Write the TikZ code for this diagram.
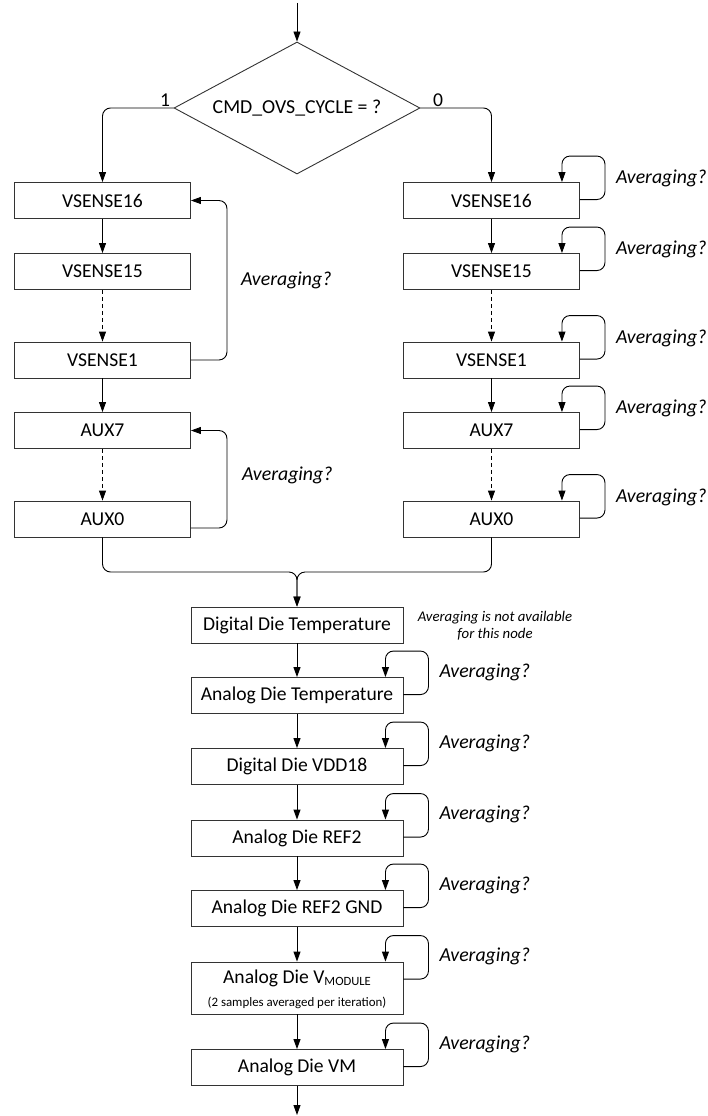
\documentclass[tikz,border=0pt]{standalone}
\usepackage{fontspec}
\setmainfont{Carlito}
\usetikzlibrary{shapes.geometric,arrows.meta,calc}
\newcommand\myloop[2]{%
  \draw[arr,rc] ($(#1.north east)+(0,17.5)$) -- ++(25,0) |- ($(#1.north east)+(-18,-26)$) -- ($(#1.north east)+(-18,0)$);
  \node[avg] (#1avg) at ($(#1.north east)+(36,#2)$) {Averaging?};}
\begin{document}
\begin{tikzpicture}[x=1pt,y=-1pt,
  box/.style={draw=black!80, line width=0.9pt, minimum height=36pt, inner sep=0pt, font=\fontsize{19.6}{22}\selectfont},
  sbox/.style={box, minimum width=176pt},
  cbox/.style={box, minimum width=212pt},
  arr/.style={line width=0.9pt, -{Triangle[length=10pt,width=7pt]}},
  dsh/.style={arr, dash pattern=on 4pt off 3pt},
  avg/.style={font=\fontsize{19.8}{22}\selectfont\itshape, anchor=west, inner sep=0pt},
  lbl/.style={font=\fontsize{19.6}{22}\selectfont, inner sep=0pt},
  rc/.style={rounded corners=8pt}]
\useasboundingbox (0,0) rectangle (708,1116);

% decision
\node[diamond, draw=black!80, line width=0.9pt, minimum width=246pt, minimum height=132pt, inner sep=0pt, aspect=1.86, font=\fontsize{19.8}{22}\selectfont] (dia) at (297,108) {CMD\_OVS\_CYCLE = ?};
\coordinate (top) at (297,3);
\draw[arr] (top) -- (dia.north);
\node[lbl] (one) at (165,100) {1};
\node[lbl] (zero) at (438,100) {0};

% left column
\node[sbox] (L16) at (102.5,200.5) {VSENSE16};
\node[sbox] (L15) at (102.5,271.5) {VSENSE15};
\node[sbox] (L1)  at (102.5,360) {VSENSE1};
\node[sbox] (LA7) at (102.5,430.5) {AUX7};
\node[sbox] (LA0) at (102.5,519) {AUX0};

% right column
\node[sbox] (R16) at (491.5,200.5) {VSENSE16};
\node[sbox] (R15) at (491.5,271.5) {VSENSE15};
\node[sbox] (R1)  at (491.5,360) {VSENSE1};
\node[sbox] (RA7) at (491.5,430.5) {AUX7};
\node[sbox] (RA0) at (491.5,519) {AUX0};

\draw[arr,rc] (dia.west) -| (L16.north);
\draw[arr,rc] (dia.east) -| (R16.north);

\draw[arr] (L16) -- (L15);
\draw[dsh] (L15) -- (L1);
\draw[arr] (L1) -- (LA7);
\draw[dsh] (LA7) -- (LA0);
\draw[arr] (R16) -- (R15);
\draw[dsh] (R15) -- (R1);
\draw[arr] (R1) -- (RA7);
\draw[dsh] (RA7) -- (RA0);

\draw[arr,rc] (L1.east) -- ++(36,0) |- (L16.east);
\draw[arr,rc] ($(LA0.east)+(0,9)$) -- ++(36,0) |- (LA7.east);
\node[avg] (lavg1) at (241,280) {Averaging?};
\node[avg] (lavg2) at (242,475) {Averaging?};

\myloop{R16}{-3.5}
\myloop{R15}{-3.5}
\myloop{R1}{-3.5}
\myloop{RA7}{-3.5}
\myloop{RA0}{-3.5}

% central column
\node[cbox] (DDT) at (297,625) {Digital Die Temperature};
\node[cbox] (ADT) at (297,695.5) {Analog Die Temperature};
\node[cbox] (VDD) at (297,766.5) {Digital Die VDD18};
\node[cbox] (REF) at (297,838) {Analog Die REF2};
\node[cbox] (GND) at (297,908.5) {Analog Die REF2 GND};
\node[cbox, minimum height=52pt] (VMOD) at (297,988) {};
\node[lbl] (vmt1) at (297,978) {Analog Die V\raisebox{-2pt}{\fontsize{12.6}{14}\selectfont MODULE}};
\node[lbl, font=\fontsize{12.9}{15}\selectfont] (vmt2) at (297,1003) {(2 samples averaged per iteration)};
\node[cbox] (VM) at (297,1067.5) {Analog Die VM};

\coordinate (mj) at (297,572);
\draw[arr,rc] (LA0.south) |- (mj) -- (DDT.north);
\draw[arr,rc] (RA0.south) |- (mj) -- (DDT.north);

\node[font=\fontsize{14.8}{17}\selectfont\itshape, align=center, inner sep=0pt] (na) at (495,625.5) {Averaging is not available\\for this node};

\draw[arr] (DDT) -- (ADT);
\draw[arr] (ADT) -- (VDD);
\draw[arr] (VDD) -- (REF);
\draw[arr] (REF) -- (GND);
\draw[arr] (GND) -- (VMOD);
\draw[arr] (VMOD) -- (VM);
\coordinate (bot) at (297,1115);
\draw[arr] (VM) -- (bot);

\myloop{ADT}{-5}
\myloop{VDD}{-5}
\myloop{REF}{-5}
\myloop{GND}{-5}
\myloop{VMOD}{-5}
\myloop{VM}{-5}
\end{tikzpicture}
\end{document}
